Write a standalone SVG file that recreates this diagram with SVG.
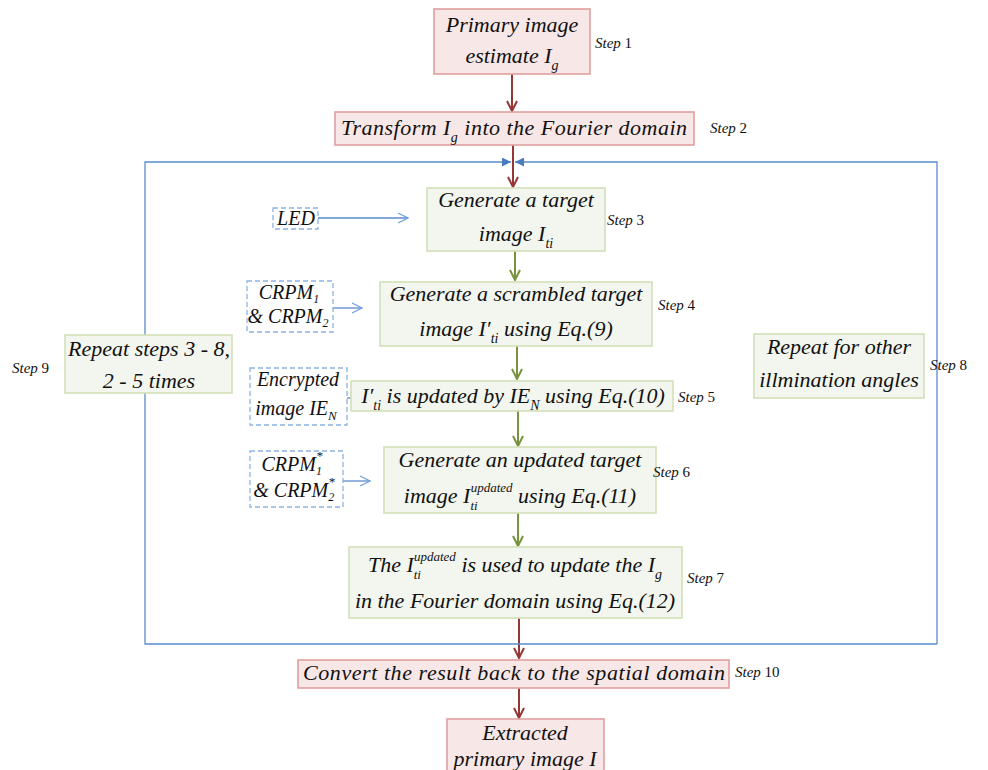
<svg xmlns="http://www.w3.org/2000/svg" width="988" height="770" viewBox="0 0 988 770">
<defs>
<style>
.rb{fill:#f8e7e7;stroke:#e0a09f;stroke-width:1.6}
.gb{fill:#f3f6ee;stroke:#d3e0b8;stroke-width:1.6}
.db{fill:#fff;stroke:#8db3e2;stroke-width:1.3;stroke-dasharray:5 3}
.t{font-family:"Liberation Serif","Times New Roman",serif;font-style:italic;font-size:22px;fill:#111;text-anchor:middle}
.d{font-family:"Liberation Serif","Times New Roman",serif;font-style:italic;font-size:20px;fill:#111;text-anchor:middle}
.s{font-family:"Liberation Serif","Times New Roman",serif;font-size:15px;fill:#111}
.red{stroke:#953735;stroke-width:2;fill:none}
.grn{stroke:#77933c;stroke-width:2;fill:none}
.blu{stroke:#5a8ad0;stroke-width:1.3;fill:none}
</style>
<marker id="ar" viewBox="0 0 12 12" refX="11" refY="6" markerWidth="12" markerHeight="12" markerUnits="userSpaceOnUse" orient="auto"><path d="M1 1L11 6L1 11" fill="none" stroke="#953735" stroke-width="2"/></marker>
<marker id="ag" viewBox="0 0 12 12" refX="11" refY="6" markerWidth="12" markerHeight="12" markerUnits="userSpaceOnUse" orient="auto"><path d="M1 1L11 6L1 11" fill="none" stroke="#77933c" stroke-width="2"/></marker>
<marker id="ab" viewBox="0 0 12 12" refX="11" refY="6" markerWidth="12" markerHeight="12" markerUnits="userSpaceOnUse" orient="auto"><path d="M1 1L11 6L1 11" fill="none" stroke="#6f9fe0" stroke-width="1.2"/></marker>
<marker id="af" viewBox="0 0 10 10" refX="10" refY="5" markerWidth="9" markerHeight="9" markerUnits="userSpaceOnUse" orient="auto"><path d="M0 0L10 5L0 10Z" fill="#4a7cc0"/></marker>
</defs>

<g id="connectors">
<path class="red" d="M512 74V111" marker-end="url(#ar)"/>
<path class="red" d="M513 145V187" marker-end="url(#ar)"/>
<path class="grn" d="M515 251V280" marker-end="url(#ag)"/>
<path class="grn" d="M517 346V379" marker-end="url(#ag)"/>
<path class="grn" d="M518 411V446" marker-end="url(#ag)"/>
<path class="grn" d="M518 513V546" marker-end="url(#ag)"/>
<path class="red" d="M519 618V658" marker-end="url(#ar)"/>
<path class="red" d="M519 688V718" marker-end="url(#ar)"/>
<path class="blu" d="M937 644H145V162H511" marker-end="url(#af)"/>
<path class="blu" d="M937 644V162H515" marker-end="url(#af)"/>
<path class="blu" stroke="#6f9fe0" d="M318 218H408" marker-end="url(#ab)"/>
<path class="blu" stroke="#6f9fe0" d="M333 308H362" marker-end="url(#ab)"/>
<path class="blu" stroke="#6f9fe0" d="M342 398H372" marker-end="url(#ab)"/>
<path class="blu" stroke="#6f9fe0" d="M343 481H370" marker-end="url(#ab)"/>
</g>

<g id="step1">
<rect class="rb" x="434" y="9" width="156" height="65"/>
<text class="t" x="512" y="32">Primary image</text>
<text class="t" x="512" y="63">estimate I<tspan font-size="14" dy="7">g</tspan></text>
<text class="s" x="595" y="48"><tspan font-style="italic">Step</tspan> 1</text>
</g>

<g id="step2">
<rect class="rb" x="335" y="112" width="359" height="33"/>
<text class="t" x="514" y="135" textLength="346" lengthAdjust="spacing">Transform I<tspan font-size="14" dy="7">g</tspan><tspan dy="-7"> into the Fourier domain</tspan></text>
<text class="s" x="710" y="133"><tspan font-style="italic">Step</tspan> 2</text>
</g>

<g id="step3">
<rect class="gb" x="427" y="188" width="178" height="63"/>
<text class="t" x="516" y="207">Generate a target</text>
<text class="t" x="516" y="241">image I<tspan font-size="14" dy="7">ti</tspan></text>
<text class="s" x="607" y="225"><tspan font-style="italic">Step</tspan> 3</text>
</g>

<g id="led">
<rect class="db" x="273" y="208" width="45" height="21"/>
<text class="d" x="296" y="225">LED</text>
</g>

<g id="step4">
<rect class="gb" x="380" y="282" width="272" height="64"/>
<text class="t" x="516" y="301">Generate a scrambled target</text>
<text class="t" x="516" y="336">image I′<tspan font-size="14" dy="7">ti</tspan><tspan dy="-7"> using Eq.(9)</tspan></text>
<text class="s" x="658" y="310"><tspan font-style="italic">Step</tspan> 4</text>
</g>

<g id="crpm">
<rect class="db" x="247" y="281" width="86" height="51"/>
<text class="d" x="289" y="299">CRPM<tspan font-size="12" dy="4">1</tspan></text>
<text class="d" x="288" y="323">&amp; CRPM<tspan font-size="12" dy="4">2</tspan></text>
</g>

<g id="step5">
<rect class="gb" x="351" y="381" width="322" height="30"/>
<text class="t" x="513" y="403">I′<tspan font-size="14" dy="7">ti</tspan><tspan dy="-7"> is updated by IE</tspan><tspan font-size="14" dy="7">N</tspan><tspan dy="-7"> using Eq.(10)</tspan></text>
<text class="s" x="678" y="402"><tspan font-style="italic">Step</tspan> 5</text>
</g>

<g id="encrypted">
<rect class="db" x="250" y="368" width="97" height="57"/>
<text class="d" x="298" y="386">Encrypted</text>
<text class="d" x="296" y="415">image IE<tspan font-size="13" dy="5">N</tspan></text>
</g>

<g id="step6">
<rect class="gb" x="384" y="447" width="272" height="66"/>
<text class="t" x="520" y="467">Generate an updated target</text>
<text class="t" x="520" y="503">image I<tspan font-size="13" dy="7">ti</tspan><tspan font-size="13" dx="-7" dy="-18">updated</tspan><tspan dy="11"> using Eq.(11)</tspan></text>
<text class="s" x="653" y="477"><tspan font-style="italic">Step</tspan> 6</text>
</g>

<g id="crpmstar">
<rect class="db" x="250" y="451" width="93" height="56"/>
<text class="d" x="292" y="471">CRPM<tspan font-size="12" dy="4">1</tspan><tspan font-size="13" dx="-6" dy="-15">*</tspan></text>
<text class="d" x="294" y="497">&amp; CRPM<tspan font-size="12" dy="4">2</tspan><tspan font-size="13" dx="-6" dy="-15">*</tspan></text>
</g>

<g id="step7">
<rect class="gb" x="349" y="547" width="333" height="71"/>
<text class="t" x="515" y="572">The I<tspan font-size="13" dy="7">ti</tspan><tspan font-size="13" dx="-7" dy="-18">updated</tspan><tspan dy="11">  is used to update the I</tspan><tspan font-size="14" dy="7">g</tspan></text>
<text class="t" x="515" y="608">in the Fourier domain using Eq.(12)</text>
<text class="s" x="687" y="583"><tspan font-style="italic">Step</tspan> 7</text>
</g>

<g id="step10">
<rect class="rb" x="298" y="660" width="431" height="28"/>
<text class="t" x="514" y="680" textLength="422" lengthAdjust="spacing">Convert the result back to the spatial domain</text>
<text class="s" x="735" y="677"><tspan font-style="italic">Step</tspan> 10</text>
</g>

<g id="result">
<rect class="rb" x="447" y="719" width="157" height="60"/>
<text class="t" x="525" y="740">Extracted</text>
<text class="t" x="525" y="766">primary image I</text>
</g>

<g id="step9">
<rect class="gb" x="65" y="335" width="167" height="58"/>
<text class="t" x="149" y="356">Repeat steps 3 - 8,</text>
<text class="t" x="149" y="388">2 - 5 times</text>
<text class="s" x="12" y="373"><tspan font-style="italic">Step</tspan> 9</text>
</g>

<g id="step8">
<rect class="gb" x="754" y="334" width="170" height="64"/>
<text class="t" x="839" y="354">Repeat  for other</text>
<text class="t" x="839" y="387">illmination angles</text>
<text class="s" x="930" y="370"><tspan font-style="italic">Step</tspan> 8</text>
</g>
</svg>
